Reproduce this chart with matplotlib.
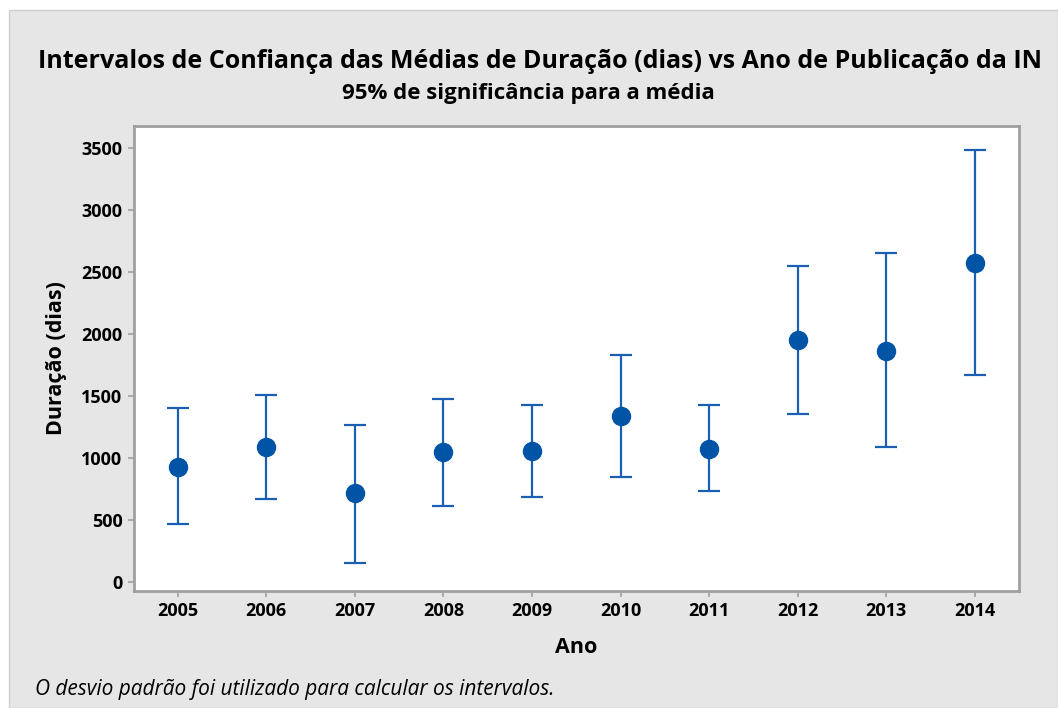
import matplotlib
matplotlib.use("Agg")
import matplotlib.pyplot as plt
from matplotlib.patches import Rectangle

plt.rcParams['font.family'] = ['Open Sans', 'DejaVu Sans']

# values
anos = [2005, 2006, 2007, 2008, 2009, 2010, 2011, 2012, 2013, 2014]
media = [923, 1088, 713, 1045, 1058, 1341, 1071, 1952, 1863, 2576]
inferior = [463, 670, 148, 611, 686, 848, 730, 1354, 1090, 1666]
superior = [1405, 1505, 1268, 1475, 1430, 1831, 1430, 2547, 2652, 3483]

yticks = [0, 500, 1000, 1500, 2000, 2500, 3000, 3500]

azul = "#0054a6"
cinza = "#e6e6e6"

fig = plt.figure(figsize=(10.58, 7.08), dpi=100, facecolor="white")
# grey panel behind everything, slightly inset from top/left
fig.patches.append(Rectangle((9 / 1058, 0), 1 - 9 / 1058, 1 - 10 / 708,
                             transform=fig.transFigure, facecolor=cinza,
                             edgecolor="#cfcfcf", linewidth=1, zorder=-10))

ax = fig.add_axes([133.5 / 1058, 1 - 591 / 708, (1019 - 133.5) / 1058, (591 - 126) / 708])
ax.set_facecolor("white")

erro_baixo = [m - l for m, l in zip(media, inferior)]
erro_cima = [u - m for m, u in zip(media, superior)]
ax.errorbar(anos, media, yerr=[erro_baixo, erro_cima], fmt="o", color=azul,
            ecolor="#1a5fb4", elinewidth=1.6, capsize=8, capthick=1.6,
            markersize=13, zorder=3)

ax.set_xlim(2004.5, 2014.5)
ax.set_ylim(-75, 3680)
ax.set_xticks(anos)
ax.set_yticks(yticks)
ax.tick_params(axis="both", direction="out", length=4, width=1.2, color="#a0a0a0",
               labelsize=13, pad=4)
for lab in ax.get_xticklabels() + ax.get_yticklabels():
    lab.set_fontweight("bold")

for s in ax.spines.values():
    s.set_color("#a0a0a0")
    s.set_linewidth(2)

ax.set_xlabel("Ano", fontsize=15.5, fontweight="bold", labelpad=12)
ax.set_ylabel("Duração (dias)", fontsize=15.5, fontweight="bold", labelpad=10)

fig.text(540 / 1058, 1 - 62 / 708,
         "Intervalos de Confiança das Médias de Duração (dias) vs Ano de Publicação da IN",
         ha="center", va="center", fontsize=18, fontweight="bold")
fig.text(528 / 1058, 1 - 94 / 708, "95% de significância para a média",
         ha="center", va="center", fontsize=16, fontweight="bold")
fig.text(35 / 1058, 1 - 690 / 708, "O desvio padrão foi utilizado para calcular os intervalos.",
         ha="left", va="center", fontsize=15, style="italic")

fig.savefig("out.png", dpi=100, facecolor=fig.get_facecolor())
